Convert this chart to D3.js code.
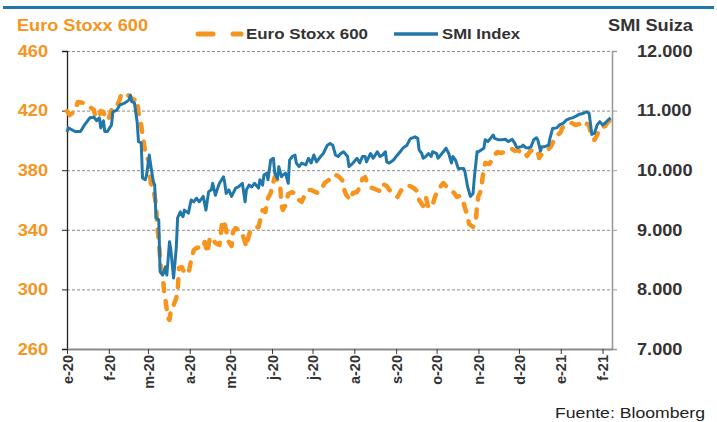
<!DOCTYPE html>
<html><head><meta charset="utf-8">
<script src="https://cdn.jsdelivr.net/npm/d3@7"></script>
<style>body{margin:0;background:#fff}svg{display:block}text{font-family:"Liberation Sans",Arial,sans-serif}</style>
</head><body><svg id="c" width="717" height="422"></svg>
<script>
const monthLabels = ["e-20","f-20","m-20","a-20","m-20","j-20","j-20","a-20","s-20","o-20","n-20","d-20","e-21","f-21"];
const euroTicks = [260,300,340,380,420,460];
const smiTicks = [7000,8000,9000,10000,11000,12000];

const smiDates = ["2020-01-01","2020-01-02","2020-01-07","2020-01-11","2020-01-14","2020-01-18","2020-01-21","2020-01-23","2020-01-25","2020-01-26","2020-01-28","2020-01-29","2020-01-31",
"2020-02-03","2020-02-04","2020-02-07","2020-02-09","2020-02-13","2020-02-16","2020-02-17","2020-02-18","2020-02-20","2020-02-22","2020-02-23","2020-02-25","2020-02-26","2020-02-28","2020-02-29",
"2020-03-02","2020-03-03","2020-03-05","2020-03-06","2020-03-07","2020-03-09","2020-03-10","2020-03-12","2020-03-14","2020-03-15","2020-03-17","2020-03-18","2020-03-20","2020-03-22","2020-03-23","2020-03-25","2020-03-27","2020-03-28","2020-03-31",
"2020-04-02","2020-04-04","2020-04-06","2020-04-08","2020-04-11","2020-04-13","2020-04-15","2020-04-17","2020-04-18","2020-04-20","2020-04-22","2020-04-23","2020-04-26","2020-04-27","2020-04-28","2020-04-30",
"2020-05-02","2020-05-05","2020-05-07","2020-05-10","2020-05-12","2020-05-13","2020-05-15","2020-05-17","2020-05-19","2020-05-22","2020-05-23","2020-05-25","2020-05-26","2020-05-28","2020-05-29","2020-05-31",
"2020-06-02","2020-06-03","2020-06-05","2020-06-06","2020-06-08","2020-06-09","2020-06-11","2020-06-13","2020-06-14","2020-06-16","2020-06-18","2020-06-19","2020-06-21","2020-06-23","2020-06-26","2020-06-28","2020-06-30",
"2020-07-02","2020-07-04","2020-07-07","2020-07-09","2020-07-12","2020-07-14","2020-07-16","2020-07-18","2020-07-20","2020-07-22","2020-07-24","2020-07-27","2020-07-28","2020-07-31",
"2020-08-03","2020-08-05","2020-08-07","2020-08-09","2020-08-10","2020-08-13","2020-08-15","2020-08-18","2020-08-20","2020-08-22","2020-08-24","2020-08-25","2020-08-27","2020-08-30",
"2020-09-01","2020-09-04","2020-09-06","2020-09-09","2020-09-11","2020-09-12","2020-09-15","2020-09-17","2020-09-18","2020-09-20","2020-09-21","2020-09-23","2020-09-25","2020-09-27","2020-09-28",
"2020-10-01","2020-10-02","2020-10-04","2020-10-06","2020-10-08","2020-10-10","2020-10-12","2020-10-13","2020-10-15","2020-10-17","2020-10-18","2020-10-21","2020-10-22","2020-10-24","2020-10-26","2020-10-28","2020-10-29","2020-10-31",
"2020-11-01","2020-11-03","2020-11-05","2020-11-06","2020-11-08","2020-11-10","2020-11-12","2020-11-13","2020-11-16","2020-11-18","2020-11-21","2020-11-23","2020-11-26","2020-11-28","2020-11-29","2020-11-30",
"2020-12-03","2020-12-04","2020-12-06","2020-12-08","2020-12-10","2020-12-12","2020-12-14","2020-12-15","2020-12-17","2020-12-18","2020-12-20","2020-12-23","2020-12-24","2020-12-26","2020-12-29","2020-12-31",
"2021-01-03","2021-01-05","2021-01-08","2021-01-10","2021-01-13","2021-01-15","2021-01-18","2021-01-20","2021-01-22","2021-01-23","2021-01-24","2021-01-26","2021-01-28","2021-01-30",
"2021-02-01","2021-02-03","2021-02-05","2021-02-07"];
const smiValues = [10640,10710,10650,10650,10760,10880,10890,10830,10880,10710,10830,10650,10650,
10760,10980,11010,11090,11130,11180,11260,11150,11130,10810,10480,10460,9870,9840,9920,
10255,10090,9810,9750,9200,9170,8300,8240,8380,8240,8800,8660,8190,8695,9200,9300,9220,9330,9280,
9500,9470,9530,9470,9560,9330,9640,9670,9780,9580,9720,9780,9890,9780,9610,9670,
9560,9700,9720,9780,9470,9670,9750,9720,9780,9700,9840,9750,9920,9950,9840,10170,
10200,9950,9860,10060,9890,9920,9950,9780,10170,10230,10255,10120,10060,10120,10090,10200,10120,
10255,10140,10230,10280,10420,10450,10420,10255,10230,10280,10310,10230,10060,10120,
10200,10120,10230,10230,10140,10280,10200,10310,10230,10255,10310,10140,10120,10170,
10230,10310,10370,10420,10510,10535,10560,10535,10340,10280,10200,10230,10280,10230,10310,
10280,10200,10255,10310,10370,10280,10120,10230,10170,10030,10030,10030,9975,9720,9560,9610,9890,10310,
10310,10340,10370,10510,10480,10535,10590,10535,10510,10510,10520,10480,10520,10450,10395,10380,
10395,10420,10380,10370,10395,10510,10545,10510,10320,10395,10395,10420,10535,10700,10710,10760,
10790,10840,10870,10880,10915,10940,10955,10980,10955,10790,10600,10620,10760,10815,
10760,10790,10840,10880];

const stoxxDates = ["2020-01-01","2020-01-03","2020-01-07","2020-01-09","2020-01-14","2020-01-18","2020-01-21","2020-01-22","2020-01-25","2020-01-26","2020-01-28","2020-01-30",
"2020-02-01","2020-02-03","2020-02-05","2020-02-06","2020-02-09","2020-02-10","2020-02-12","2020-02-14","2020-02-17","2020-02-19","2020-02-22","2020-02-23","2020-02-25","2020-02-26","2020-02-28","2020-02-29",
"2020-03-02","2020-03-03","2020-03-05","2020-03-07","2020-03-08","2020-03-09","2020-03-10","2020-03-11","2020-03-12","2020-03-13","2020-03-14","2020-03-15","2020-03-16","2020-03-17","2020-03-18","2020-03-19","2020-03-20","2020-03-22","2020-03-23","2020-03-24","2020-03-26","2020-03-27","2020-03-29","2020-03-31",
"2020-04-02","2020-04-04","2020-04-06","2020-04-09","2020-04-11","2020-04-12","2020-04-14","2020-04-16","2020-04-18","2020-04-21","2020-04-23","2020-04-25","2020-04-26","2020-04-28","2020-04-29",
"2020-05-02","2020-05-03","2020-05-05","2020-05-07","2020-05-09","2020-05-11","2020-05-13","2020-05-14","2020-05-16","2020-05-19","2020-05-22","2020-05-25","2020-05-27","2020-05-29","2020-05-31",
"2020-06-01","2020-06-03","2020-06-05","2020-06-07","2020-06-08","2020-06-09","2020-06-11","2020-06-13","2020-06-16","2020-06-19","2020-06-21","2020-06-23","2020-06-25","2020-06-28","2020-06-30",
"2020-07-03","2020-07-05","2020-07-08","2020-07-10","2020-07-13","2020-07-16","2020-07-18","2020-07-20","2020-07-23","2020-07-24","2020-07-26","2020-07-29","2020-07-31",
"2020-08-03","2020-08-05","2020-08-07","2020-08-09","2020-08-11","2020-08-14","2020-08-18","2020-08-20","2020-08-22","2020-08-25","2020-08-27","2020-08-30",
"2020-09-02","2020-09-04","2020-09-06","2020-09-09","2020-09-11","2020-09-14","2020-09-17","2020-09-18","2020-09-21","2020-09-23","2020-09-25","2020-09-28","2020-09-30",
"2020-10-03","2020-10-06","2020-10-08","2020-10-10","2020-10-14","2020-10-16","2020-10-18","2020-10-20","2020-10-22","2020-10-24","2020-10-25","2020-10-28","2020-10-30","2020-10-31",
"2020-11-01","2020-11-03","2020-11-04","2020-11-06","2020-11-09","2020-11-11","2020-11-13","2020-11-15","2020-11-18","2020-11-20","2020-11-23","2020-11-26","2020-11-28","2020-11-30",
"2020-12-03","2020-12-05","2020-12-07","2020-12-09","2020-12-11","2020-12-13","2020-12-15","2020-12-16","2020-12-19","2020-12-21","2020-12-23","2020-12-25","2020-12-27","2020-12-29",
"2021-01-01","2021-01-02","2021-01-05","2021-01-07","2021-01-09","2021-01-12","2021-01-15","2021-01-17","2021-01-19","2021-01-22","2021-01-23","2021-01-25","2021-01-26","2021-01-28","2021-01-30",
"2021-02-01","2021-02-03","2021-02-05","2021-02-08"];
const stoxxValues = [419.7,417,419.7,425.8,425.1,422.4,420.4,415.7,415.7,419.7,419.1,413.7,
415,420.4,420.4,421.7,427.1,430.5,431.8,431.1,429.1,427.1,427.8,418.4,410.3,403.6,392.2,388.9,
385.5,371.4,368.1,356.6,341.2,333.2,321.1,311.7,309.7,298.3,292.9,286.2,280.8,279.5,286.2,288.9,289.5,294.2,298.3,314.4,315,313,311,310.3,
319.7,326.4,327.8,328.5,327.8,331.8,324.4,335.2,333.2,330.5,329.8,345.2,346.6,339.9,333.2,
329.1,338.5,341.2,339.9,339.2,334.5,328.5,333.2,339.9,341.2,341.9,353.3,351.9,361.3,364.7,
368.7,375.4,373.4,370.1,356.6,353.3,356.6,364,365.4,363.4,360,358.7,362.7,366.7,366.7,
365.4,364.7,368.1,371.4,373.4,374.1,376.8,376.1,373.4,368.1,363.4,360,364.7,
365.4,368.7,374.1,375.4,370.1,368.1,366.7,366,370.7,369.4,366.7,364.7,
362,365.4,368.1,368.7,369.4,368.1,365.4,360,356,362,354.6,356.6,362.7,
368.1,371.4,369.4,367.4,364.7,362,362.7,361.3,354.6,349.3,343.9,341.9,345.2,356.6,
362.7,366.7,374.8,384.8,384.2,386.8,390.2,392.2,391.5,392.2,393.6,394.2,392.9,393.6,
391.5,392.2,389.5,392.2,393.6,394.2,392.2,388.2,392.2,393.6,394.2,396.2,400.3,403,
405.6,408.3,410.3,411,411.7,410.3,411,409.7,411.7,410.3,405.6,402.3,400.3,403.6,408.3,
409,409.7,412.3,414.4];

const BLUE = "#2277aa", ORANGE = "#f7941d", DARK = "#333333";
const FONT = '"Liberation Sans",Arial,sans-serif';
const parse = d3.timeParse("%Y-%m-%d");
const smi = smiDates.map((d,i)=>({date:parse(d), v:smiValues[i]}));
const stoxx = stoxxDates.map((d,i)=>({date:parse(d), v:stoxxValues[i]}));

const L = 67, R = 612, T = 51, B = 349;
const x = d3.scaleTime().domain([parse("2020-01-01"), parse("2021-02-08")]).range([L, R]);
const yE = d3.scaleLinear().domain([260,460]).range([B, T]);
const yS = d3.scaleLinear().domain([7000,12000]).range([B, T]);
const loc = d3.formatLocale({decimal:",", thousands:".", grouping:[3], currency:["",""]});
const fmtS = loc.format(",.0f");

// widen horizontal text slightly, as in the reference rendering
function stretch(sel, f){
  sel.each(function(){
    const w = this.getComputedTextLength();
    d3.select(this).attr("textLength", w*f).attr("lengthAdjust","spacingAndGlyphs");
  });
}

const svg = d3.select("#c");
svg.append("rect").attr("width",717).attr("height",422).attr("fill","#fff");
svg.append("rect").attr("x",3).attr("y",6).attr("width",711).attr("height",3).attr("fill",BLUE);

// grid
svg.append("g").selectAll("line").data(euroTicks.filter(t=>t>260)).join("line")
  .attr("x1",L).attr("x2",R).attr("y1",d=>yE(d)+0.5).attr("y2",d=>yE(d)+0.5)
  .attr("stroke","#8c8c8c").attr("stroke-width",1).attr("stroke-dasharray","3,2");

// left axis
const gl = svg.append("g").attr("transform",`translate(${L},0)`)
  .call(d3.axisLeft(yE).tickValues(euroTicks).tickSize(5).tickPadding(14));
gl.select(".domain").attr("stroke","#222").attr("stroke-width",1.3);
gl.selectAll(".tick line").attr("stroke","#222");
gl.selectAll(".tick text").attr("fill",ORANGE).attr("font-size",16.5).attr("font-weight","bold").attr("font-family",FONT)
  .call(stretch,1.1);

// right axis
const gr = svg.append("g").attr("transform",`translate(${R},0)`)
  .call(d3.axisRight(yS).tickValues(smiTicks).tickFormat(fmtS).tickSize(5).tickPadding(20));
gr.select(".domain").attr("stroke","#9a9a9a").attr("stroke-width",1.6);
gr.selectAll(".tick line").attr("stroke","#9a9a9a");
gr.selectAll(".tick text").attr("fill",DARK).attr("font-size",16.5).attr("font-weight","bold").attr("font-family",FONT)
  .call(stretch,1.1);

// bottom axis
const months = d3.timeMonth.range(parse("2020-01-01"), parse("2021-02-02"));
const gb = svg.append("g").attr("transform",`translate(0,${B})`)
  .call(d3.axisBottom(x).tickValues(months).tickFormat((d,i)=>monthLabels[i]).tickSize(5).tickSizeOuter(0));
gb.select(".domain").attr("stroke","#8a8a8a").attr("stroke-width",2);
gb.selectAll(".tick line").attr("stroke","#333");
gb.selectAll(".tick text").attr("fill",DARK).attr("font-size",14.5).attr("font-weight","bold").attr("font-family",FONT)
  .attr("transform","rotate(-90)").attr("text-anchor","end").attr("x",-6).attr("y",0).attr("dy","0.36em");

// lines
const lineS = d3.line().x(d=>x(d.date)).y(d=>yS(d.v));
const lineE = d3.line().x(d=>x(d.date)).y(d=>yE(d.v));
svg.append("path").datum(stoxx).attr("d",lineE).attr("fill","none").attr("stroke",ORANGE)
  .attr("stroke-width",4.5).attr("stroke-dasharray","8,10").attr("stroke-linecap","round").attr("stroke-linejoin","round");
svg.append("path").datum(smi).attr("d",lineS).attr("fill","none").attr("stroke",BLUE)
  .attr("stroke-width",3).attr("stroke-linejoin","round");

// titles
svg.append("text").attr("x",17).attr("y",31).attr("fill",ORANGE).attr("font-size",16.5).attr("font-weight","bold")
  .text("Euro Stoxx 600").attr("textLength",131).attr("lengthAdjust","spacingAndGlyphs");
svg.append("text").attr("x",693).attr("y",31).attr("text-anchor","end").attr("fill",DARK).attr("font-size",16).attr("font-weight","bold")
  .text("SMI Suiza").attr("textLength",85).attr("lengthAdjust","spacingAndGlyphs");

// legend
const lg = svg.append("g");
lg.append("line").attr("x1",198).attr("x2",213).attr("y1",34).attr("y2",34).attr("stroke",ORANGE).attr("stroke-width",5).attr("stroke-linecap","round");
lg.append("line").attr("x1",233).attr("x2",241).attr("y1",34).attr("y2",34).attr("stroke",ORANGE).attr("stroke-width",5).attr("stroke-linecap","round");
lg.append("text").attr("x",246).attr("y",39).attr("fill",DARK).attr("font-size",15).attr("font-weight","bold")
  .text("Euro Stoxx 600").attr("textLength",122).attr("lengthAdjust","spacingAndGlyphs");
lg.append("line").attr("x1",394).attr("x2",438).attr("y1",34).attr("y2",34).attr("stroke",BLUE).attr("stroke-width",3.5);
lg.append("text").attr("x",442).attr("y",39).attr("fill",DARK).attr("font-size",15).attr("font-weight","bold")
  .text("SMI Index").attr("textLength",78).attr("lengthAdjust","spacingAndGlyphs");

// source
svg.append("text").attr("x",705).attr("y",418).attr("text-anchor","end").attr("fill","#222").attr("font-size",15.5)
  .text("Fuente: Bloomberg").attr("textLength",150).attr("lengthAdjust","spacingAndGlyphs");
</script></body></html>
